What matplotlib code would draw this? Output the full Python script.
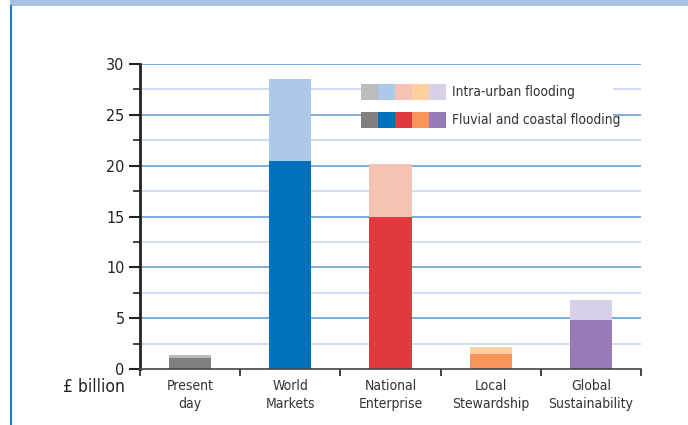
import matplotlib
matplotlib.use("Agg")
import matplotlib.pyplot as plt
from matplotlib.patches import Rectangle
from matplotlib.lines import Line2D

plt.rcParams['font.family'] = ['DejaVu Sans']
plt.rcParams['font.stretch'] = 'condensed'

categories = ["Present\nday", "World\nMarkets", "National\nEnterprise", "Local\nStewardship", "Global\nSustainability"]
fluvial = [1.1, 20.5, 15.0, 1.5, 4.8]
intra_urban = [0.3, 8.0, 5.2, 0.7, 2.0]
fluvial_colors = ["#808080", "#0072bc", "#e03a3e", "#f7955b", "#967bb6"]
intra_colors = ["#bcbcbc", "#adc8e8", "#f4c3b4", "#fed09e", "#d8d0e8"]
legend_labels = ["Intra-urban flooding", "Fluvial and coastal flooding"]
yticks_major = [0, 5, 10, 15, 20, 25, 30]
yticks_minor = [2.5, 7.5, 12.5, 17.5, 22.5, 27.5]

fig = plt.figure(figsize=(6.88, 4.25), dpi=100)
fig.patch.set_facecolor("white")

# header band and left border
fig.patches.append(Rectangle((10/688, 1 - 6/425), 1, 6/425, transform=fig.transFigure,
                             facecolor="#a6c2e0", edgecolor="none"))
fig.lines.append(Line2D([10.5/688, 10.5/688], [0, 1 - 6/425], transform=fig.transFigure,
                        color="#1a7fd0", linewidth=1.5))

ax = fig.add_axes([140/688, 1 - 369/425, 501/688, 305/425])
x = list(range(len(categories)))

for y in yticks_minor:
    ax.axhline(y, color="#c8d8ef", linewidth=1.2, zorder=0)
for y in yticks_major[1:]:
    ax.axhline(y, color="#6fa6d9", linewidth=1.3, zorder=0)

ax.bar(x, fluvial, width=0.42, color=fluvial_colors, zorder=2)
ax.bar(x, intra_urban, bottom=fluvial, width=0.42, color=intra_colors, zorder=2)

ax.set_xlim(-0.5, 4.5)
ax.set_ylim(0, 30)
ax.set_yticks(yticks_major)
ax.set_yticks(yticks_minor, minor=True)
ax.set_yticklabels([str(v) for v in yticks_major], fontsize=11.5, color="#222222")
ax.tick_params(axis="y", which="major", length=8, width=1.5, color="#222222", pad=3)
ax.tick_params(axis="y", which="minor", length=5, width=1.2, color="#222222")

ax.set_xticks([i + 0.5 for i in range(-1, 5)])
ax.set_xticklabels([""] * 6)
ax.set_xticks(x, minor=True)
ax.set_xticklabels(categories, minor=True, fontsize=10, color="#333333", linespacing=1.4)
ax.tick_params(axis="x", which="major", length=5, width=1.2, color="#222222", direction="out")
ax.tick_params(axis="x", which="minor", length=0, pad=7)

for s in ["top", "right"]:
    ax.spines[s].set_visible(False)
ax.spines["left"].set_linewidth(2)
ax.spines["left"].set_color("#222222")
ax.spines["bottom"].set_linewidth(1.2)
ax.spines["bottom"].set_color("#444444")

# legend (manual)
ax.add_patch(Rectangle((221/501, 0.80), 252/501, 0.17, transform=ax.transAxes,
                       facecolor="white", edgecolor="none", zorder=3))
sw = 17/501
sh = 16/305
x0 = 361/501
for row, (cols, ypx) in enumerate([(intra_colors, 92), (fluvial_colors, 120)]):
    yc = (369 - ypx) / 305
    for i, c in enumerate(cols):
        ax.add_patch(Rectangle((x0 + i * sw - 140/501, yc - sh / 2), sw, sh,
                               transform=ax.transAxes, facecolor=c, edgecolor="none", zorder=4))
    ax.text((452 - 140) / 501, yc, legend_labels[row], transform=ax.transAxes,
            fontsize=9.8, color="#333333", va="center", ha="left", zorder=5)

fig.text(125/688, 1 - 387/425, "£ billion", fontsize=12.5, color="#222222", ha="right", va="center")

fig.savefig("out.png", dpi=100)
